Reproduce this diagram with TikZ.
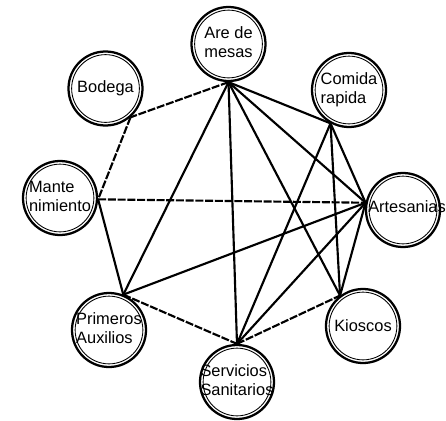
\documentclass[tikz,border=0pt]{standalone}
\usepackage{fontspec}
\setmainfont{Liberation Sans}
% two left-aligned lines, centred as a block and taking no width
\newcommand\twolines[2]{\makebox[0pt]{\begin{tabular}{@{}l@{}}#1\\#2\end{tabular}}}
\begin{document}
\begin{tikzpicture}[x=0.75pt,y=-0.75pt,
  place/.style={circle, draw, line width=1.7pt, minimum size=55.5pt, inner sep=0pt,
    font=\fontsize{12.3}{14.25}\selectfont,
    path picture={\draw[line width=0.65pt] (path picture bounding box.center) circle (25.4pt);}},
  link/.style={line width=1.6pt},
  dlink/.style={link, dash pattern=on 6pt off 1.3pt}]
\useasboundingbox (0,0) rectangle (446,421);

% areas
\node[place] (are) at (228.5,44)  {\twolines{Are de}{mesas}};
\node[place] (bod) at (105.5,88.5) {Bodega};
\node[place] (man) at (60,198)    {\twolines{Mante}{nimiento}};
\node[place] (pri) at (109,330)   {\twolines{Primeros}{Auxilios}};
\node[place] (ser) at (237,382)   {\twolines{Servicios}{Sanitarios}};
\node[place] (kio) at (363,326)   {\makebox[0pt]{Kioscos}};
\node[place] (art) at (403,210)   {\makebox[0pt]{\raisebox{5pt}{\hspace{6pt}Artesanias}}};
\node[place] (com) at (349,90)    {\twolines{Comida}{rapida}};

% meeting points of the connectors on each ring
\coordinate (areP) at (are.-90);
\coordinate (bodP) at (bod.-49);
\coordinate (manP) at (man.-2);
\coordinate (priP) at (pri.68);
\coordinate (serP) at (ser.90);
\coordinate (kioP) at (kio.127);
\coordinate (artP) at (art.169);
\coordinate (comP) at (com.241);

% weak relations
\draw[dlink] (areP) -- (bodP);
\draw[dlink] (bodP) -- (manP);
\draw[dlink] (manP) -- (artP);
\draw[dlink] (priP) -- (serP);
\draw[dlink] (serP) -- (kioP);

% strong relations
\draw[link] (areP) -- (comP);
\draw[link] (areP) -- (artP);
\draw[link] (areP) -- (kioP);
\draw[link] (areP) -- (serP);
\draw[link] (areP) -- (priP);
\draw[link] (comP) -- (serP);
\draw[link] (comP) -- (kioP);
\draw[link] (comP) -- (artP);
\draw[link] (manP) -- (priP);
\draw[link] (artP) -- (priP);
\draw[link] (artP) -- (serP);
\draw[link] (artP) -- (kioP);
\end{tikzpicture}
\end{document}
